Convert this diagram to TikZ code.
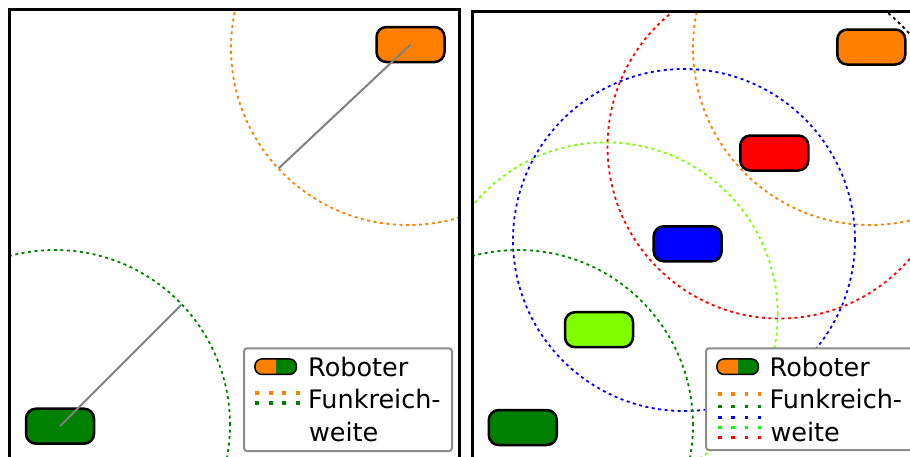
\documentclass[tikz,border=0pt]{standalone}
\usepackage{fontspec}
\setmainfont{DejaVu Sans}
\definecolor{robOrange}{HTML}{FF8000}
\definecolor{robGreen}{HTML}{008000}
\definecolor{robLime}{HTML}{80FF00}
\definecolor{robBlue}{HTML}{0000FF}
\definecolor{robRed}{HTML}{FF0000}
\definecolor{legLime}{HTML}{00FF00}
\definecolor{boxGray}{HTML}{8C8C8C}
\definecolor{rayGray}{HTML}{808080}
\begin{document}
\begin{tikzpicture}[x=1pt,y=-1pt,
  robot/.style={draw=black, line width=2.5pt, rounded corners=10pt, minimum width=68pt, minimum height=35pt, inner sep=0pt},
  rangecirc/.style={line width=1.8pt, dash pattern=on 3pt off 3.5pt},
  rayline/.style={draw=rayGray, line width=2pt},
  panelframe/.style={draw=black, line width=3pt},
  legbox/.style={draw=boxGray, fill=white, line width=2pt, rounded corners=3pt},
  legicon/.style={draw=black, line width=1.5pt, rounded corners=7pt, minimum width=41.5pt, minimum height=15.5pt, inner sep=0pt,
    path picture={
      \fill[robOrange, sharp corners] (path picture bounding box.south west) rectangle (path picture bounding box.north);
      \fill[robGreen, sharp corners] (path picture bounding box.north) rectangle (path picture bounding box.south east);
    }},
  legtext/.style={anchor=base west, inner sep=0pt, font=\fontsize{25.5}{30}\selectfont},
  legdotA/.style={line width=4pt, dash pattern=on 4pt off 9.5pt},
  legdotB/.style={line width=3.3pt, dash pattern=on 3.3pt off 9.8pt},
]
\useasboundingbox (0,0) rectangle (910,456);
\clip (0,0) rectangle (910,456);

% ---------------- left panel ----------------
\begin{scope}
  \clip (9,9.5) rectangle (459,470);
  \draw[rangecirc, robOrange] (408,48) circle[radius=177pt];
  \draw[rangecirc, robGreen] (55,425) circle[radius=175pt];
  \node[robot, fill=robOrange] (lo) at (410.5,44.5) {};
  \node[robot, fill=robGreen] (lg) at (60,426.2) {};
  \coordinate (loend) at (278.7,168.3);
  \coordinate (lgend) at (181.3,305);
  \draw[rayline] (lo.center) -- (loend);
  \draw[rayline] (lg.center) -- (lgend);
\end{scope}
\draw[panelframe] (9,9.5) rectangle (459,470);

% legend left
\draw[legbox] (244,348.3) rectangle (452,451);
\node[legicon] (li1) at (275.7,366.7) {};
\node[legtext] (lt1) at (308,376.7) {Roboter};
\node[legtext] (lt2) at (308,408.3) {Funkreich-};
\node[legtext] (lt3) at (308.8,441.5) {weite};
\draw[legdotA, robOrange] (255,393.3) -- (299.5,393.3);
\draw[legdotA, robGreen] (255,402.7) -- (299.5,402.7);

% ---------------- right panel ----------------
\begin{scope}
  \clip (472,11.5) rectangle (1000,470);
  \draw[rangecirc, robOrange] (870,48) circle[radius=177pt];
  \begin{scope}
    \clip (472,0) -- (880,0) -- (880,45) -- (1000,45) -- (1000,470) -- (472,470) -- cycle;
    \draw[rangecirc, robRed] (779.5,146.5) circle[radius=172pt];
  \end{scope}
  \begin{scope}
    \clip (880,0) rectangle (1000,45);
    \draw[rangecirc, black] (779.5,146.5) circle[radius=172pt];
  \end{scope}
  \draw[rangecirc, robBlue] (684,240) circle[radius=171pt];
  \begin{scope}
    \clip (472,0) -- (1000,0) -- (1000,470) -- (560,470) -- (560,380) -- (472,380) -- cycle;
    \draw[rangecirc, robLime] (605.7,314.4) circle[radius=172pt];
  \end{scope}
  \draw[rangecirc, robGreen] (518,425) circle[radius=175pt];
  \node[robot, fill=robOrange] (ro) at (871.3,47) {};
  \node[robot, fill=robRed] (rr) at (774.3,153) {};
  \node[robot, fill=robBlue] (rb) at (687.7,243.8) {};
  \node[robot, fill=robLime] (rl) at (599,329.7) {};
  \node[robot, fill=robGreen] (rg) at (522.8,427.5) {};
\end{scope}
\draw[panelframe] (472,11.5) rectangle (1000,470);

% legend right
\draw[legbox] (706,348.3) rectangle (960,450);
\node[legicon] (li2) at (737.7,366.7) {};
\node[legtext] (rt1) at (769.5,376.7) {Roboter};
\node[legtext] (rt2) at (769.5,408.8) {Funkreich-};
\node[legtext] (rt3) at (770.3,441.2) {weite};
\draw[legdotB, robOrange] (718.3,394) -- (761,394);
\draw[legdotB, robGreen] (718.3,406.7) -- (761,406.7);
\draw[legdotB, robBlue] (718.3,417.3) -- (761,417.3);
\draw[legdotB, legLime] (718.3,427.3) -- (761,427.3);
\draw[legdotB, robRed] (718.3,437.3) -- (761,437.3);
\end{tikzpicture}
\end{document}
